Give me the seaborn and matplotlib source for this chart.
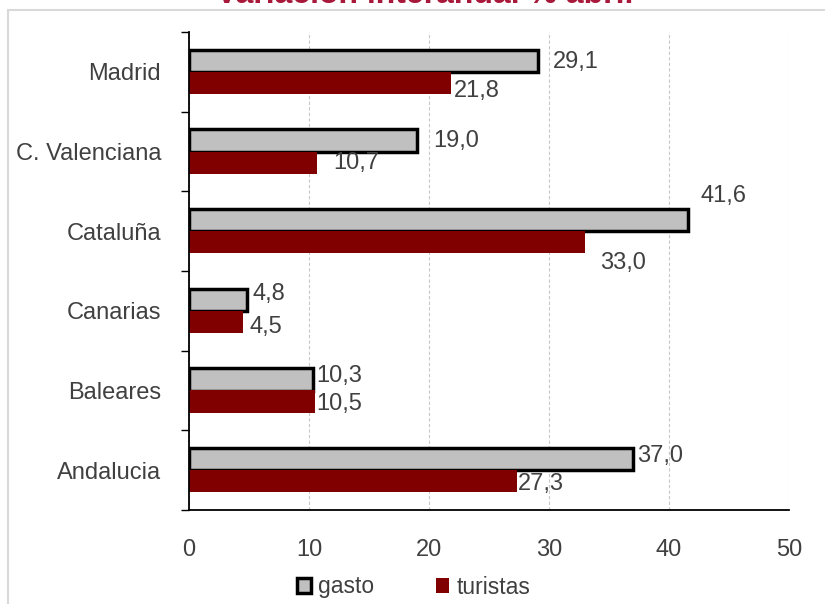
import matplotlib
matplotlib.use("Agg")
import matplotlib.pyplot as plt
from matplotlib.patches import Patch, Rectangle
from matplotlib.ticker import FixedLocator
import seaborn as sns
import pandas as pd
import numpy as np

# ---- data ----
regions = ["Madrid", "C. Valenciana", "Cataluña", "Canarias", "Baleares", "Andalucia"]
gasto = [29.1, 19.0, 41.6, 4.8, 10.3, 37.0]
turistas = [21.8, 10.7, 33.0, 4.5, 10.5, 27.3]
series = ["gasto", "turistas"]
title = "Variación interanual % abril"
xticks = [0, 10, 20, 30, 40, 50]

sns.set_theme(style="white")
plt.rcParams["font.family"] = ["Liberation Sans", "DejaVu Sans"]

df = pd.DataFrame({
    "region": regions * 2,
    "serie": ["gasto"] * len(regions) + ["turistas"] * len(regions),
    "valor": gasto + turistas,
})

fig = plt.figure(figsize=(8.25, 6.04), dpi=100)
ax = fig.add_axes([189/825, 1-510/604, 600/825, 478/604])

colors = {"gasto": "#c0c0c0", "turistas": "#800000"}
sns.barplot(data=df, y="region", x="valor", hue="serie", order=regions,
            hue_order=series, palette=colors, width=0.56, orient="h",
            ax=ax, legend=False, saturation=1)

for p in ax.containers[0].patches:
    p.set_edgecolor("black")
    p.set_linewidth(2.5)
for p in ax.containers[1].patches:
    p.set_edgecolor("none")
    p.set_linewidth(0)

ax.set_xlim(0, 50)
ax.set_ylim(5.5, -0.5)
ax.set_xticks(xticks)
ax.set_xticklabels([str(t) for t in xticks])
ax.set_xlabel("")
ax.set_ylabel("")
ax.grid(axis="x", color="#c8c8c8", linestyle=(0, (3, 2)), linewidth=0.8)
ax.grid(axis="y", visible=False)
ax.set_axisbelow(True)

for s in ["top", "right"]:
    ax.spines[s].set_visible(False)
for s in ["left", "bottom"]:
    ax.spines[s].set_color("black")
    ax.spines[s].set_linewidth(1.3)

ax.yaxis.set_minor_locator(FixedLocator(np.arange(-0.5, len(regions), 1.0)))
ax.tick_params(axis="y", which="major", length=0, pad=20, labelsize=17, labelcolor="#404040")
ax.tick_params(axis="y", which="minor", length=6, width=1.0, color="black", left=True)
ax.tick_params(axis="x", which="major", length=0, pad=21, labelsize=17, labelcolor="#404040")

# value labels (offsets in pixels: right, down)
off_g = [(15, 1), (16, 1), (12, -24), (6, -6), (4, -3), (4, -3)]
off_t = [(3, 8), (16, 0), (15, 21), (7, 5), (1, 2), (1, 3)]
for cont, vals, offs in [(ax.containers[0], gasto, off_g), (ax.containers[1], turistas, off_t)]:
    for p, v, (dx, dy) in zip(cont.patches, vals, offs):
        yc = p.get_y() + p.get_height() / 2
        ax.annotate(f"{v:.1f}".replace(".", ","), xy=(p.get_width(), yc),
                    xytext=(dx, -dy), textcoords="offset pixels",
                    ha="left", va="center", fontsize=17, color="#404040",
                    annotation_clip=False)

# legend
handles = [Patch(facecolor="#c0c0c0", edgecolor="black", linewidth=2.5),
           Patch(facecolor="#800000", edgecolor="none")]
fig.legend(handles, series, loc="center", bbox_to_anchor=(413.5/825, 1-587/604),
           ncol=2, frameon=False, fontsize=16.5, handlelength=0.6, handleheight=0.6,
           handletextpad=0.3, columnspacing=2.7, labelcolor="#404040")

# title (partly cropped at top, as in the reference)
fig.text(425/825, 1-3/604, title, ha="center", va="baseline", fontsize=23,
         fontweight="bold", color="#a8183a")

# outer light border
fig.patches.append(Rectangle((8/825, -0.2), 1.2, 1.2 - 10/604, transform=fig.transFigure,
                             fill=False, edgecolor="#d9d9d9", linewidth=1.5, clip_on=False))

fig.savefig("out.png", dpi=100)
